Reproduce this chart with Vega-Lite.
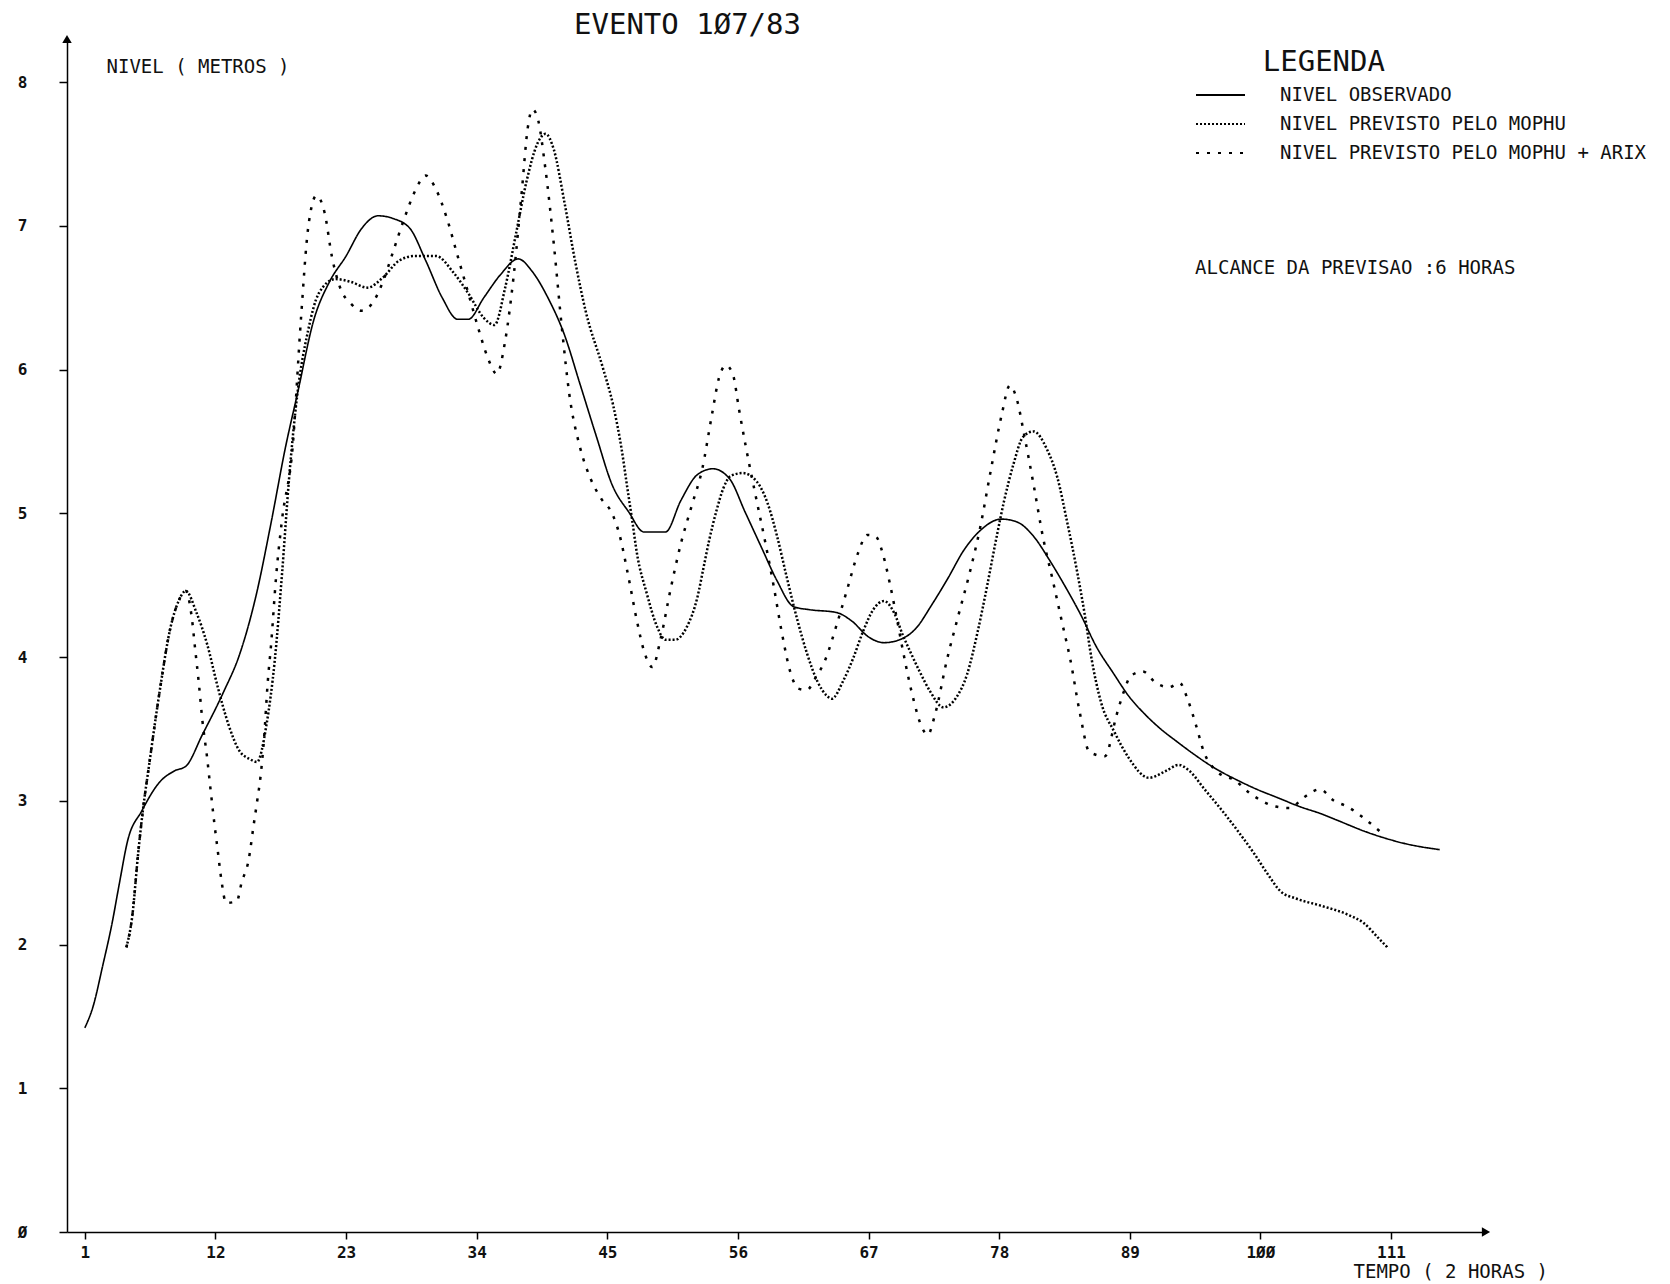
{
  "$schema": "https://vega.github.io/schema/vega-lite/v6.json",
  "width": 1419,
  "height": 1193,
  "autosize": {"type": "none"},
  "padding": {"left": 67, "top": 39, "right": 184, "bottom": 52},
  "background": "white",
  "title": {
    "text": "EVENTO 1Ø7/83",
    "frame": "group",
    "anchor": "middle",
    "dx": -89,
    "offset": -5,
    "font": "DejaVu Sans Mono",
    "fontSize": 29,
    "fontWeight": "normal",
    "color": "#111111"
  },
  "config": {
    "view": {"stroke": null},
    "font": "DejaVu Sans Mono"
  },
  "datasets": {
    "observado": [
      {"t": 1, "nivel": 1.42}, {"t": 1.7, "nivel": 1.57}, {"t": 2.5, "nivel": 1.85}, {"t": 3.3, "nivel": 2.15},
      {"t": 3.9, "nivel": 2.42}, {"t": 4.6, "nivel": 2.72}, {"t": 5.8, "nivel": 2.93}, {"t": 7.3, "nivel": 3.13},
      {"t": 8.6, "nivel": 3.21}, {"t": 9.5, "nivel": 3.24}, {"t": 10.9, "nivel": 3.46}, {"t": 12.7, "nivel": 3.76},
      {"t": 14, "nivel": 4.01}, {"t": 15.4, "nivel": 4.42}, {"t": 16.7, "nivel": 4.94}, {"t": 17.9, "nivel": 5.46},
      {"t": 18.9, "nivel": 5.83}, {"t": 20.3, "nivel": 6.35}, {"t": 21.6, "nivel": 6.61}, {"t": 23, "nivel": 6.79},
      {"t": 24.3, "nivel": 6.98}, {"t": 25.7, "nivel": 7.07}, {"t": 27, "nivel": 7.05}, {"t": 28.4, "nivel": 6.98},
      {"t": 29.7, "nivel": 6.76}, {"t": 31.1, "nivel": 6.5}, {"t": 32.4, "nivel": 6.35}, {"t": 33.3, "nivel": 6.35},
      {"t": 34.6, "nivel": 6.5}, {"t": 36, "nivel": 6.66}, {"t": 37.5, "nivel": 6.77}, {"t": 38.7, "nivel": 6.68},
      {"t": 40, "nivel": 6.5}, {"t": 41.4, "nivel": 6.24}, {"t": 42.7, "nivel": 5.9}, {"t": 44.1, "nivel": 5.53},
      {"t": 45.4, "nivel": 5.2}, {"t": 46.8, "nivel": 5.01}, {"t": 48.1, "nivel": 4.87}, {"t": 49.9, "nivel": 4.87},
      {"t": 51.2, "nivel": 5.09}, {"t": 52.6, "nivel": 5.27}, {"t": 53.9, "nivel": 5.31}, {"t": 55.3, "nivel": 5.24},
      {"t": 56.6, "nivel": 5.01}, {"t": 58, "nivel": 4.76}, {"t": 59.3, "nivel": 4.53}, {"t": 60.7, "nivel": 4.35},
      {"t": 62, "nivel": 4.33}, {"t": 64.3, "nivel": 4.31}, {"t": 65.6, "nivel": 4.25}, {"t": 67, "nivel": 4.14},
      {"t": 68.3, "nivel": 4.1}, {"t": 69.6, "nivel": 4.12}, {"t": 71, "nivel": 4.2}, {"t": 72.3, "nivel": 4.36},
      {"t": 73.7, "nivel": 4.55}, {"t": 75, "nivel": 4.74}, {"t": 76.4, "nivel": 4.88}, {"t": 78.2, "nivel": 4.96},
      {"t": 79.5, "nivel": 4.94}, {"t": 80.9, "nivel": 4.84}, {"t": 82.2, "nivel": 4.68}, {"t": 83.5, "nivel": 4.5},
      {"t": 84.9, "nivel": 4.29}, {"t": 86.2, "nivel": 4.07}, {"t": 87.6, "nivel": 3.89}, {"t": 88.9, "nivel": 3.73},
      {"t": 90.3, "nivel": 3.6}, {"t": 91.6, "nivel": 3.5}, {"t": 93, "nivel": 3.41}, {"t": 94.3, "nivel": 3.33},
      {"t": 96.1, "nivel": 3.23}, {"t": 97.9, "nivel": 3.15}, {"t": 99.7, "nivel": 3.08}, {"t": 101.5, "nivel": 3.02},
      {"t": 103.3, "nivel": 2.96}, {"t": 105.1, "nivel": 2.91}, {"t": 106.9, "nivel": 2.85}, {"t": 108.7, "nivel": 2.79},
      {"t": 110.5, "nivel": 2.74}, {"t": 112.3, "nivel": 2.7}, {"t": 115.1, "nivel": 2.66}
    ],
    "mophu": [
      {"t": 4.5, "nivel": 1.98}, {"t": 5, "nivel": 2.2}, {"t": 5.5, "nivel": 2.64}, {"t": 5.9, "nivel": 2.94},
      {"t": 6.4, "nivel": 3.24}, {"t": 7.3, "nivel": 3.76}, {"t": 8.2, "nivel": 4.2}, {"t": 8.9, "nivel": 4.39},
      {"t": 9.5, "nivel": 4.46}, {"t": 10.4, "nivel": 4.31}, {"t": 11.3, "nivel": 4.09}, {"t": 12.2, "nivel": 3.79},
      {"t": 13.1, "nivel": 3.53}, {"t": 14, "nivel": 3.35}, {"t": 14.9, "nivel": 3.29}, {"t": 15.5, "nivel": 3.27},
      {"t": 16.3, "nivel": 3.53}, {"t": 17, "nivel": 3.98}, {"t": 17.6, "nivel": 4.57}, {"t": 18.2, "nivel": 5.24},
      {"t": 18.9, "nivel": 5.83}, {"t": 19.8, "nivel": 6.27}, {"t": 20.7, "nivel": 6.53}, {"t": 22.1, "nivel": 6.63},
      {"t": 23.4, "nivel": 6.61}, {"t": 24.8, "nivel": 6.57}, {"t": 26.1, "nivel": 6.64}, {"t": 27.5, "nivel": 6.76},
      {"t": 28.8, "nivel": 6.79}, {"t": 30.6, "nivel": 6.79}, {"t": 32, "nivel": 6.68}, {"t": 33.3, "nivel": 6.53},
      {"t": 34.6, "nivel": 6.36}, {"t": 35.5, "nivel": 6.31}, {"t": 36.4, "nivel": 6.57}, {"t": 37.3, "nivel": 6.94},
      {"t": 38.2, "nivel": 7.31}, {"t": 39.1, "nivel": 7.57}, {"t": 39.8, "nivel": 7.64}, {"t": 40.5, "nivel": 7.53},
      {"t": 41.4, "nivel": 7.16}, {"t": 42.3, "nivel": 6.75}, {"t": 43.2, "nivel": 6.4}, {"t": 44.6, "nivel": 6.02},
      {"t": 45.5, "nivel": 5.75}, {"t": 46.2, "nivel": 5.45}, {"t": 46.7, "nivel": 5.17}, {"t": 47.1, "nivel": 4.95},
      {"t": 47.5, "nivel": 4.72}, {"t": 48.3, "nivel": 4.45}, {"t": 49.2, "nivel": 4.21}, {"t": 49.9, "nivel": 4.12},
      {"t": 50.7, "nivel": 4.12}, {"t": 51.7, "nivel": 4.21}, {"t": 52.6, "nivel": 4.42}, {"t": 53.1, "nivel": 4.62},
      {"t": 53.6, "nivel": 4.82}, {"t": 54.2, "nivel": 5.02}, {"t": 54.8, "nivel": 5.18}, {"t": 55.4, "nivel": 5.26},
      {"t": 56.4, "nivel": 5.28}, {"t": 57.6, "nivel": 5.22}, {"t": 58.5, "nivel": 5.07}, {"t": 59.3, "nivel": 4.84},
      {"t": 60.1, "nivel": 4.56}, {"t": 61, "nivel": 4.26}, {"t": 61.8, "nivel": 4.03}, {"t": 62.7, "nivel": 3.83},
      {"t": 63.5, "nivel": 3.73}, {"t": 63.9, "nivel": 3.71}, {"t": 64.9, "nivel": 3.84}, {"t": 65.7, "nivel": 3.99},
      {"t": 66.5, "nivel": 4.17}, {"t": 67.4, "nivel": 4.33}, {"t": 68.3, "nivel": 4.39}, {"t": 69.2, "nivel": 4.3},
      {"t": 69.9, "nivel": 4.15}, {"t": 70.5, "nivel": 4.04}, {"t": 71.3, "nivel": 3.9}, {"t": 72.2, "nivel": 3.76},
      {"t": 73.3, "nivel": 3.65}, {"t": 74.4, "nivel": 3.72}, {"t": 75.3, "nivel": 3.88}, {"t": 76.2, "nivel": 4.18},
      {"t": 77, "nivel": 4.5}, {"t": 77.7, "nivel": 4.8}, {"t": 78.4, "nivel": 5.08}, {"t": 79.2, "nivel": 5.34},
      {"t": 80, "nivel": 5.53}, {"t": 80.9, "nivel": 5.57}, {"t": 82, "nivel": 5.45}, {"t": 82.9, "nivel": 5.25},
      {"t": 83.7, "nivel": 4.95}, {"t": 84.6, "nivel": 4.58}, {"t": 85.2, "nivel": 4.3}, {"t": 85.8, "nivel": 3.98},
      {"t": 86.6, "nivel": 3.68}, {"t": 87.7, "nivel": 3.48}, {"t": 88.9, "nivel": 3.3}, {"t": 90.6, "nivel": 3.16},
      {"t": 92.1, "nivel": 3.21}, {"t": 93.1, "nivel": 3.25}, {"t": 94, "nivel": 3.21}, {"t": 95.3, "nivel": 3.08},
      {"t": 96.7, "nivel": 2.94}, {"t": 98.1, "nivel": 2.79}, {"t": 99.5, "nivel": 2.63}, {"t": 100.7, "nivel": 2.48},
      {"t": 101.7, "nivel": 2.37}, {"t": 103, "nivel": 2.32}, {"t": 105.1, "nivel": 2.27}, {"t": 107.3, "nivel": 2.21},
      {"t": 108.7, "nivel": 2.15}, {"t": 110, "nivel": 2.04}, {"t": 110.7, "nivel": 1.98}
    ],
    "arix": [
      {"t": 4.5, "nivel": 1.98}, {"t": 5, "nivel": 2.2}, {"t": 5.5, "nivel": 2.64}, {"t": 5.9, "nivel": 2.94},
      {"t": 6.4, "nivel": 3.24}, {"t": 7.3, "nivel": 3.76}, {"t": 8.2, "nivel": 4.2}, {"t": 8.9, "nivel": 4.39},
      {"t": 9.5, "nivel": 4.46}, {"t": 10, "nivel": 4.28}, {"t": 10.3, "nivel": 4.05}, {"t": 10.6, "nivel": 3.82},
      {"t": 10.9, "nivel": 3.56}, {"t": 11.3, "nivel": 3.3}, {"t": 11.6, "nivel": 3.07}, {"t": 11.9, "nivel": 2.85},
      {"t": 12.2, "nivel": 2.65}, {"t": 12.5, "nivel": 2.45}, {"t": 12.9, "nivel": 2.29}, {"t": 13.8, "nivel": 2.3},
      {"t": 14.2, "nivel": 2.43}, {"t": 14.8, "nivel": 2.59}, {"t": 15.2, "nivel": 2.82}, {"t": 15.5, "nivel": 2.99},
      {"t": 15.8, "nivel": 3.17}, {"t": 16.1, "nivel": 3.44}, {"t": 16.4, "nivel": 3.82}, {"t": 16.7, "nivel": 4.1},
      {"t": 17.1, "nivel": 4.55}, {"t": 17.6, "nivel": 4.95}, {"t": 18.5, "nivel": 5.46}, {"t": 19.2, "nivel": 6.35},
      {"t": 19.8, "nivel": 6.98}, {"t": 20.5, "nivel": 7.21}, {"t": 21.2, "nivel": 7.09}, {"t": 21.8, "nivel": 6.79},
      {"t": 22.5, "nivel": 6.57}, {"t": 23.4, "nivel": 6.46}, {"t": 24.3, "nivel": 6.41}, {"t": 25.2, "nivel": 6.46},
      {"t": 26.1, "nivel": 6.61}, {"t": 27, "nivel": 6.83}, {"t": 27.9, "nivel": 7.05}, {"t": 28.8, "nivel": 7.24},
      {"t": 29.7, "nivel": 7.35}, {"t": 30.6, "nivel": 7.25}, {"t": 31.5, "nivel": 7.05}, {"t": 32.4, "nivel": 6.79},
      {"t": 33.3, "nivel": 6.53}, {"t": 34.2, "nivel": 6.27}, {"t": 34.9, "nivel": 6.09}, {"t": 35.7, "nivel": 5.97},
      {"t": 36.4, "nivel": 6.2}, {"t": 37.1, "nivel": 6.64}, {"t": 37.8, "nivel": 7.24}, {"t": 38.3, "nivel": 7.68},
      {"t": 38.7, "nivel": 7.81}, {"t": 39.1, "nivel": 7.76}, {"t": 39.8, "nivel": 7.39}, {"t": 40.5, "nivel": 6.87},
      {"t": 41.2, "nivel": 6.27}, {"t": 41.8, "nivel": 5.83}, {"t": 42.7, "nivel": 5.46}, {"t": 43.6, "nivel": 5.24},
      {"t": 44.5, "nivel": 5.1}, {"t": 45.4, "nivel": 5.0}, {"t": 46, "nivel": 4.86}, {"t": 46.8, "nivel": 4.55},
      {"t": 47.5, "nivel": 4.25}, {"t": 48.1, "nivel": 4.04}, {"t": 48.8, "nivel": 3.93}, {"t": 49.5, "nivel": 4.13},
      {"t": 50.3, "nivel": 4.46}, {"t": 51.2, "nivel": 4.79}, {"t": 52.1, "nivel": 5.05}, {"t": 53, "nivel": 5.31},
      {"t": 53.8, "nivel": 5.68}, {"t": 54.4, "nivel": 5.94}, {"t": 55, "nivel": 6.03}, {"t": 55.6, "nivel": 5.96},
      {"t": 56.1, "nivel": 5.72}, {"t": 56.7, "nivel": 5.45}, {"t": 57.5, "nivel": 5.12}, {"t": 58.3, "nivel": 4.8},
      {"t": 59, "nivel": 4.5}, {"t": 59.7, "nivel": 4.17}, {"t": 60.4, "nivel": 3.9}, {"t": 61.1, "nivel": 3.78},
      {"t": 61.8, "nivel": 3.77}, {"t": 62.5, "nivel": 3.85}, {"t": 63.4, "nivel": 3.99}, {"t": 64.3, "nivel": 4.22},
      {"t": 65.2, "nivel": 4.47}, {"t": 66.1, "nivel": 4.72}, {"t": 66.9, "nivel": 4.85}, {"t": 67.6, "nivel": 4.84},
      {"t": 68.2, "nivel": 4.72}, {"t": 68.8, "nivel": 4.51}, {"t": 69.4, "nivel": 4.26}, {"t": 70.1, "nivel": 3.96},
      {"t": 70.8, "nivel": 3.7}, {"t": 71.5, "nivel": 3.51}, {"t": 72, "nivel": 3.46}, {"t": 72.6, "nivel": 3.6},
      {"t": 73.6, "nivel": 3.98}, {"t": 74.6, "nivel": 4.3}, {"t": 75.5, "nivel": 4.58}, {"t": 76.4, "nivel": 4.9},
      {"t": 77.3, "nivel": 5.3}, {"t": 78.2, "nivel": 5.68}, {"t": 78.9, "nivel": 5.89}, {"t": 79.5, "nivel": 5.79},
      {"t": 80.1, "nivel": 5.55}, {"t": 80.9, "nivel": 5.2}, {"t": 81.7, "nivel": 4.83}, {"t": 82.5, "nivel": 4.54},
      {"t": 83.3, "nivel": 4.24}, {"t": 84, "nivel": 3.98}, {"t": 84.8, "nivel": 3.61}, {"t": 85.6, "nivel": 3.34},
      {"t": 86.9, "nivel": 3.31}, {"t": 87.9, "nivel": 3.6}, {"t": 88.5, "nivel": 3.76}, {"t": 89.1, "nivel": 3.87},
      {"t": 90.1, "nivel": 3.9}, {"t": 91.2, "nivel": 3.82}, {"t": 92.3, "nivel": 3.79}, {"t": 93.2, "nivel": 3.82},
      {"t": 93.9, "nivel": 3.7}, {"t": 94.6, "nivel": 3.52}, {"t": 95.2, "nivel": 3.35}, {"t": 96.4, "nivel": 3.2},
      {"t": 97.9, "nivel": 3.14}, {"t": 99, "nivel": 3.06}, {"t": 100.1, "nivel": 3.0}, {"t": 101.3, "nivel": 2.96},
      {"t": 102.5, "nivel": 2.95}, {"t": 103.6, "nivel": 3.02}, {"t": 105, "nivel": 3.08}, {"t": 106.2, "nivel": 3.0},
      {"t": 107.3, "nivel": 2.96}, {"t": 108.7, "nivel": 2.88}, {"t": 110.3, "nivel": 2.77}
    ],
    "setas": [
      {"t": -0.5, "nivel": 8.3, "forma": "triangle-up"},
      {"t": 119, "nivel": 0, "forma": "triangle-right"}
    ]
  },
  "layer": [
    {
      "data": {"name": "observado"},
      "transform": [
        {"calculate": "'NIVEL OBSERVADO'", "as": "serie"}
      ],
      "mark": {"type": "line", "interpolate": "monotone", "color": "black"},
      "encoding": {
        "x": {
          "field": "t",
          "type": "quantitative",
          "scale": {"domain": [-0.5, 119], "nice": false, "zero": false},
          "axis": {
            "values": [1, 12, 23, 34, 45, 56, 67, 78, 89, 100, 111],
            "labelExpr": "replace(format(datum.value, 'd'), /0/g, 'Ø')",
            "grid": false,
            "title": "TEMPO ( 2 HORAS )",
            "titleX": 1286,
            "titleY": 39,
            "titleAlign": "left",
            "titleAnchor": null,
            "titleBaseline": "middle",
            "titleFont": "DejaVu Sans Mono",
            "titleFontSize": 19,
            "titleFontWeight": "normal",
            "titleColor": "#111111",
            "labelFont": "DejaVu Sans Mono",
            "labelFontSize": 16,
            "labelFontWeight": "bold",
            "labelColor": "#111111",
            "labelPadding": 5,
            "tickSize": 7,
            "tickWidth": 1.5,
            "tickColor": "black",
            "domainColor": "black",
            "domainWidth": 1.5
          }
        },
        "y": {
          "field": "nivel",
          "type": "quantitative",
          "scale": {"domain": [0, 8.3], "nice": false, "zero": true},
          "axis": {
            "values": [0, 1, 2, 3, 4, 5, 6, 7, 8],
            "labelExpr": "replace(format(datum.value, 'd'), /0/g, 'Ø')",
            "grid": false,
            "title": "NIVEL ( METROS )",
            "titleAngle": 0,
            "titleX": 39,
            "titleY": 27,
            "titleAlign": "left",
            "titleAnchor": null,
            "titleBaseline": "middle",
            "titleFont": "DejaVu Sans Mono",
            "titleFontSize": 19,
            "titleFontWeight": "normal",
            "titleColor": "#111111",
            "labelFont": "DejaVu Sans Mono",
            "labelFontSize": 16,
            "labelFontWeight": "bold",
            "labelColor": "#111111",
            "labelAlign": "center",
            "labelPadding": 37,
            "tickSize": 8,
            "tickWidth": 1.5,
            "tickColor": "black",
            "domainColor": "black",
            "domainWidth": 1.5
          }
        },
        "strokeDash": {
          "field": "serie",
          "type": "nominal",
          "scale": {
            "domain": ["NIVEL OBSERVADO", "NIVEL PREVISTO PELO MOPHU", "NIVEL PREVISTO PELO MOPHU + ARIX"],
            "range": [[1, 0], [2, 2], [3, 8]]
          },
          "legend": {
            "title": null,
            "orient": "none",
            "legendX": 1128,
            "legendY": 41.5,
            "direction": "vertical",
            "symbolType": "stroke",
            "symbolSize": 2400,
            "symbolStrokeWidth": 2,
            "symbolStrokeColor": "black",
            "labelFont": "DejaVu Sans Mono",
            "labelFontSize": 19,
            "labelColor": "#111111",
            "labelLimit": 600,
            "labelOffset": 34,
            "clipHeight": 29,
            "rowPadding": 0
          }
        },
        "strokeWidth": {
          "field": "serie",
          "type": "nominal",
          "scale": {
            "type": "ordinal",
            "domain": ["NIVEL OBSERVADO", "NIVEL PREVISTO PELO MOPHU", "NIVEL PREVISTO PELO MOPHU + ARIX"],
            "range": [1.6, 2.3, 2.3]
          },
          "legend": null
        }
      }
    },
    {
      "data": {"name": "mophu"},
      "transform": [
        {"calculate": "'NIVEL PREVISTO PELO MOPHU'", "as": "serie"}
      ],
      "mark": {"type": "line", "interpolate": "monotone", "color": "black"},
      "encoding": {
        "x": {"field": "t", "type": "quantitative"},
        "y": {"field": "nivel", "type": "quantitative"},
        "strokeDash": {"field": "serie", "type": "nominal"},
        "strokeWidth": {"field": "serie", "type": "nominal", "legend": null}
      }
    },
    {
      "data": {"name": "arix"},
      "transform": [
        {"calculate": "'NIVEL PREVISTO PELO MOPHU + ARIX'", "as": "serie"}
      ],
      "mark": {"type": "line", "interpolate": "monotone", "color": "black"},
      "encoding": {
        "x": {"field": "t", "type": "quantitative"},
        "y": {"field": "nivel", "type": "quantitative"},
        "strokeDash": {"field": "serie", "type": "nominal"},
        "strokeWidth": {"field": "serie", "type": "nominal", "legend": null}
      }
    },
    {
      "data": {"name": "setas"},
      "mark": {"type": "point", "filled": true, "color": "black", "size": 90, "opacity": 1},
      "encoding": {
        "x": {"field": "t", "type": "quantitative"},
        "y": {"field": "nivel", "type": "quantitative"},
        "shape": {"field": "forma", "type": "nominal", "scale": null}
      }
    },
    {
      "data": {"values": [{"texto": "LEGENDA"}]},
      "mark": {"type": "text", "align": "left", "baseline": "middle", "font": "DejaVu Sans Mono", "fontSize": 29, "color": "#111111"},
      "encoding": {
        "x": {"datum": 100.2, "type": "quantitative"},
        "y": {"datum": 8.14, "type": "quantitative"},
        "text": {"field": "texto", "type": "nominal"}
      }
    },
    {
      "data": {"values": [{"texto": "ALCANCE DA PREVISAO :6 HORAS"}]},
      "mark": {"type": "text", "align": "left", "baseline": "middle", "font": "DejaVu Sans Mono", "fontSize": 19, "color": "#111111"},
      "encoding": {
        "x": {"datum": 94.5, "type": "quantitative"},
        "y": {"datum": 6.71, "type": "quantitative"},
        "text": {"field": "texto", "type": "nominal"}
      }
    }
  ]
}
